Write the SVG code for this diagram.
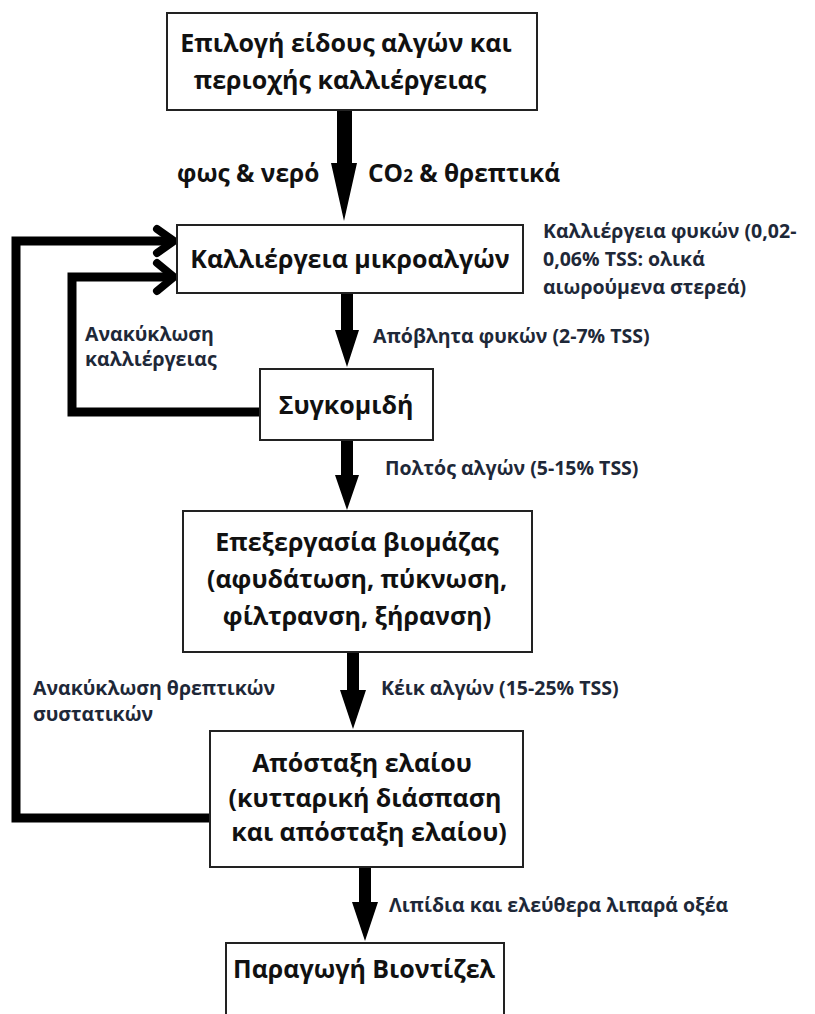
<svg xmlns="http://www.w3.org/2000/svg" width="815" height="1014" viewBox="0 0 815 1014">
<style>
.box{fill:#fff;stroke:#222;stroke-width:2}
.t{font-family:"Open Sans","Noto Sans","DejaVu Sans",sans-serif;font-weight:bold;font-size:25px;fill:#111;text-anchor:middle}
.lb{font-family:"Open Sans","Noto Sans","DejaVu Sans",sans-serif;font-weight:bold;font-size:19.5px;fill:#1e2838}
.big{font-family:"Open Sans","Noto Sans","DejaVu Sans",sans-serif;font-weight:bold;font-size:24.5px;fill:#111}
.shaft{fill:#000}
.loop{fill:none;stroke:#000;stroke-width:9;stroke-linejoin:miter}
.chev{fill:none;stroke:#000;stroke-width:8;stroke-linejoin:round;stroke-linecap:round}
</style>
<rect width="815" height="1014" fill="#fff"/>
<g id="connectors">
  <path class="shaft" d="M337,110 H352 V163 H357 L344,221 L331,163 H337 Z"/>
  <path class="shaft" d="M341,293 H353 V330 H359 L347,367 L335,330 H341 Z"/>
  <path class="shaft" d="M341,440 H353 V475 H359 L347,510 L335,475 H341 Z"/>
  <path class="shaft" d="M347,652 H359 V690 H366 L353,729 L340,690 H347 Z"/>
  <path class="shaft" d="M359,867 H371 V902 H378 L365,941 L352,902 H359 Z"/>
  <path class="loop" d="M260,412 H72 V277 H172"/>
  <polyline class="chev" points="157,263 174,277 157,291"/>
  <path class="loop" d="M210,818 H16 V241 H172"/>
  <polyline class="chev" points="157,229 174,241 157,253"/>
</g>
<g id="labels">
  <text class="big" x="177" y="182">φως &amp; νερό</text>
  <text class="big" x="368" y="182">CO<tspan font-size="17">2</tspan> &amp; θρεπτικά</text>
  <text class="lb" x="543" y="238">Καλλιέργεια φυκών (0,02-</text>
  <text class="lb" x="543" y="266">0,06% TSS: ολικά</text>
  <text class="lb" x="543" y="294">αιωρούμενα στερεά)</text>
  <text class="lb" x="373" y="343">Απόβλητα φυκών (2-7% TSS)</text>
  <text class="lb" x="85" y="341">Ανακύκλωση</text>
  <text class="lb" x="85" y="366">καλλιέργειας</text>
  <text class="lb" x="385" y="475">Πολτός αλγών (5-15% TSS)</text>
  <text class="lb" x="381" y="695">Κέικ αλγών (15-25% TSS)</text>
  <text class="lb" x="33" y="695">Ανακύκλωση θρεπτικών</text>
  <text class="lb" x="33" y="721">συστατικών</text>
  <text class="lb" x="389" y="912">Λιπίδια και ελεύθερα λιπαρά οξέα</text>
</g>
<g id="n1">
  <rect class="box" x="167" y="13" width="370" height="97"/>
  <text class="t" x="346" y="52">Επιλογή είδους αλγών και</text>
  <text class="t" x="340" y="89">περιοχής καλλιέργειας</text>
</g>
<g id="n2">
  <rect class="box" x="177" y="225" width="346" height="68"/>
  <text class="t" x="350" y="268">Καλλιέργεια μικροαλγών</text>
</g>
<g id="n3">
  <rect class="box" x="260" y="369" width="173" height="71"/>
  <text class="t" x="346" y="414">Συγκομιδή</text>
</g>
<g id="n4">
  <rect class="box" x="183" y="511" width="349" height="141"/>
  <text class="t" x="357" y="551">Επεξεργασία βιομάζας</text>
  <text class="t" x="357" y="588">(αφυδάτωση, πύκνωση,</text>
  <text class="t" x="357" y="625">φίλτρανση, ξήρανση)</text>
</g>
<g id="n5">
  <rect class="box" x="210" y="731" width="313" height="136"/>
  <text class="t" x="362" y="772">Απόσταξη ελαίου</text>
  <text class="t" x="365" y="807">(κυτταρική διάσπαση</text>
  <text class="t" x="369" y="841">και απόσταξη ελαίου)</text>
</g>
<g id="n6">
  <rect class="box" x="226" y="943" width="278" height="85"/>
  <text class="t" x="233" y="978" style="text-anchor:start">Παραγωγή Βιοντίζελ</text>
</g>
</svg>
